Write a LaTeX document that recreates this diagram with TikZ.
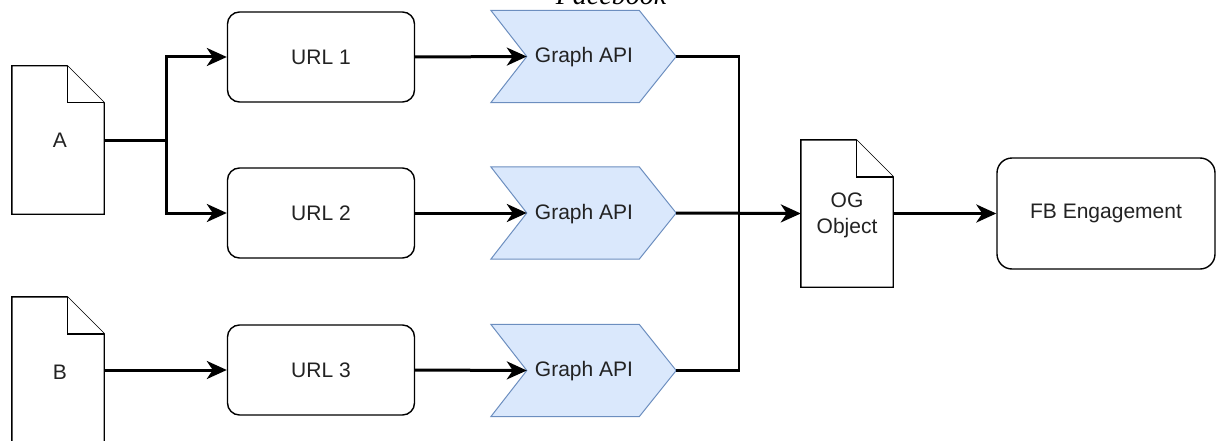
\documentclass[tikz,border=0pt]{standalone}
\usepackage{fontspec}
\setmainfont{Liberation Sans}
\newfontfamily\titlefont{Liberation Serif}
\usetikzlibrary{arrows.meta}
\definecolor{gafill}{HTML}{DAE8FC}
\definecolor{gadraw}{HTML}{6C8EBF}
\definecolor{txt}{HTML}{222222}
\newcommand\docoutline[1]{%
  \draw[boxline] (#1.north west) -- ([xshift=-37pt]#1.north east) -- ([yshift=-37pt]#1.north east) -- (#1.south east) -- (#1.south west) -- cycle;
  \draw[boxline] ([xshift=-37pt]#1.north east) -- ([xshift=-37pt,yshift=-37pt]#1.north east) -- ([yshift=-37pt]#1.north east);}
\newcommand\chevronoutline[1]{%
  \draw[gadraw, fill=gafill, line width=1pt] (#1.north west) -- ([xshift=-37pt]#1.north east) -- (#1.east) -- ([xshift=-37pt]#1.south east) -- (#1.south west) -- ([xshift=36pt]#1.west) -- cycle;}
\tikzset{
  boxline/.style={draw=black, line width=1.4pt, fill=white},
  urlbox/.style={boxline, rounded corners=12pt, minimum width=187pt, minimum height=90pt, inner sep=0pt, text=txt, font=\fontsize{21}{26}\selectfont},
  docnode/.style={minimum width=92pt, minimum height=148pt, inner sep=0pt, text=txt, font=\fontsize{21}{26}\selectfont, align=center},
  ganode/.style={minimum width=185pt, minimum height=92pt, inner sep=0pt, text=txt, font=\fontsize{21}{26}\selectfont},
  conn/.style={draw=black, line width=3pt, -{Stealth[length=20pt,width=18pt,inset=6pt]}},
  plain/.style={draw=black, line width=2.8pt},
}
\begin{document}
\begin{tikzpicture}[x=1pt, y=-1pt]
\useasboundingbox (0,0) rectangle (1217,441);
% title (mostly cut off)
\node[anchor=base, inner sep=0pt, font=\titlefont\itshape\fontsize{28}{30}\selectfont, text=black] (title) at (611,5) {Facebook};
% documents
\node[docnode] (A) at (58,140) {};
\docoutline{A}
\node[text=txt, font=\fontsize{21}{26}\selectfont] (Alab) at (60,140) {A};
\node[docnode] (B) at (58,371) {};
\docoutline{B}
\node[text=txt, font=\fontsize{21}{26}\selectfont] (Blab) at (60,372) {B};
% URL boxes
\node[urlbox] (U1) at (321,57) {URL 1};
\node[urlbox] (U2) at (321,213) {URL 2};
\node[urlbox] (U3) at (321,370) {URL 3};
% Graph API chevrons
\node[ganode] (G1) at (583.5,56.5) {};
\chevronoutline{G1}
\node[text=txt, font=\fontsize{21}{26}\selectfont] (G1l) at (584,57) {Graph API};
\node[ganode] (G2) at (583.5,213) {};
\chevronoutline{G2}
\node[text=txt, font=\fontsize{21}{26}\selectfont] (G2l) at (584,214) {Graph API};
\node[ganode] (G3) at (583.5,370.5) {};
\chevronoutline{G3}
\node[text=txt, font=\fontsize{21}{26}\selectfont] (G3l) at (584,371) {Graph API};
% OG object
\node[docnode, minimum height=147pt] (OG) at (847,213.5) {};
\docoutline{OG}
\node[text=txt, font=\fontsize{21}{26}\selectfont, align=center] (OGl) at (847,215) {OG\\Object};
% FB engagement
\node[urlbox, rounded corners=15pt, minimum width=218pt, minimum height=111pt] (FB) at (1106,213.5) {FB Engagement};
% junctions
\coordinate (jA) at (166,140);
\coordinate (jOG) at (739,213);
% connectors
\draw[conn] (A.east) -- (jA) |- (U1.west);
\draw[conn] (A.east) -- (jA) |- (U2.west);
\draw[conn] (B.east |- U3.west) -- (U3.west);
\draw[conn] (U1.east) -- ([xshift=36pt]G1.west);
\draw[conn] (U2.east) -- ([xshift=36pt]G2.west);
\draw[conn] (U3.east) -- ([xshift=36pt]G3.west);
\draw[plain] (G1.east) -| (jOG);
\draw[plain] (G3.east) -| (jOG);
\draw[conn] (G2.east) -- (OG.west);
\draw[conn] (OG.east) -- (FB.west);
\end{tikzpicture}
\end{document}
